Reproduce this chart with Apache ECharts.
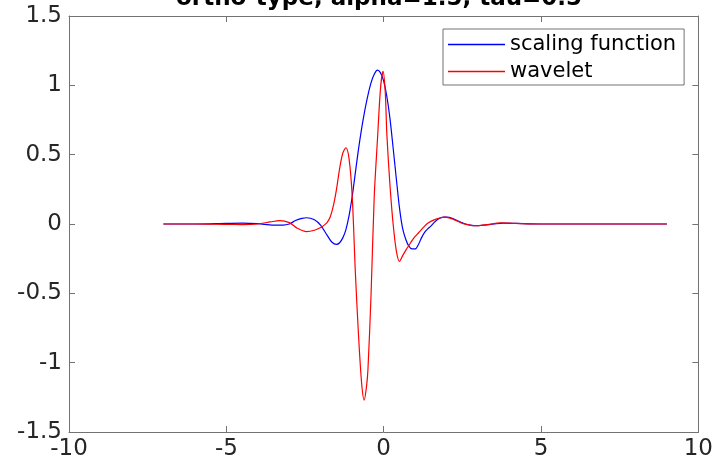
<!DOCTYPE html>
<html>
<head>
<meta charset="utf-8">
<script src="https://cdn.jsdelivr.net/npm/echarts@6/dist/echarts.min.js"></script>
<style>
  html, body { margin: 0; padding: 0; background: #fff; }
  #chart { width: 716px; height: 467px; }
</style>
</head>
<body>
<div id="chart"></div>
<script>
// title and legend texts
const titleText = 'ortho-type, alpha=1.5, tau=0.5'
const seriesNames = ['scaling function', 'wavelet']

// scaling function (blue)
const scalingX = [-7, -6, -5, -4.5, -4, -3.5, -3.2, -3, -2.8, -2.6, -2.45, -2.2, -2, -1.8, -1.65, -1.5, -1.4, -1.3, -1.2, -1.1, -1, -0.9, -0.8, -0.7, -0.6, -0.5, -0.4, -0.3, -0.2, -0.1, 0, 0.1, 0.2, 0.3, 0.4, 0.5, 0.6, 0.7, 0.8, 0.9, 1, 1.1, 1.2, 1.3, 1.4, 1.5, 1.6, 1.7, 1.8, 1.9, 2, 2.2, 2.4, 2.6, 2.8, 3, 3.2, 3.5, 3.8, 4.2, 5, 6, 7, 8, 9]
const scalingY = [0, 0, 0.004, 0.006, 0.002, -0.008, -0.008, 0, 0.025, 0.04, 0.045, 0.03, -0.01, -0.08, -0.13, -0.147, -0.135, -0.10, -0.04, 0.06, 0.20, 0.37, 0.54, 0.69, 0.82, 0.93, 1.02, 1.08, 1.11, 1.09, 1.03, 0.92, 0.76, 0.55, 0.33, 0.12, -0.03, -0.11, -0.16, -0.18, -0.18, -0.15, -0.10, -0.06, -0.035, -0.015, 0.01, 0.03, 0.043, 0.05, 0.05, 0.04, 0.018, 0, -0.01, -0.012, -0.008, 0, 0.006, 0.004, 0, 0, 0, 0, 0]

// wavelet (red)
const waveletX = [-7, -6, -5, -4.5, -4, -3.6, -3.3, -3, -2.75, -2.45, -2.2, -2, -1.9, -1.8, -1.7, -1.6, -1.5, -1.4, -1.3, -1.2, -1.1, -1, -0.9, -0.8, -0.7, -0.62, -0.55, -0.5, -0.4, -0.3, -0.2, -0.1, -0.02, 0.05, 0.1, 0.2, 0.3, 0.4, 0.5, 0.6, 0.7, 0.8, 0.9, 1, 1.1, 1.2, 1.3, 1.4, 1.6, 1.8, 1.95, 2.2, 2.5, 2.9, 3.3, 3.7, 4.2, 5, 6, 7, 8, 9]
const waveletY = [0, 0, -0.003, -0.004, 0, 0.015, 0.024, 0.01, -0.03, -0.055, -0.045, -0.025, -0.01, 0.01, 0.05, 0.13, 0.25, 0.40, 0.51, 0.55, 0.47, 0.20, -0.35, -0.80, -1.15, -1.27, -1.18, -1.05, -0.50, 0.20, 0.60, 0.98, 1.10, 0.95, 0.65, 0.28, 0, -0.19, -0.27, -0.23, -0.19, -0.155, -0.12, -0.09, -0.065, -0.04, -0.015, 0.005, 0.03, 0.045, 0.05, 0.035, 0.005, -0.012, -0.004, 0.008, 0.004, 0, 0, 0, 0, 0]

const font = 'DejaVu Sans'
const boxColor = '#737373'
const labelColor = '#262626'

const pairs = (xs, ys) => xs.map((x, i) => [x, ys[i]])

const chart = echarts.init(document.getElementById('chart'))

// box axes like matlab: ticks inside, lines on all four sides
const boxLine = { show: true, onZero: false, lineStyle: { color: boxColor, width: 1 } }
const boxTick = { show: true, inside: true, length: 6, lineStyle: { color: boxColor } }

const option = {
  animation: false,
  backgroundColor: '#fff',
  title: {
    text: titleText,
    left: 176,
    top: -12,
    padding: 0,
    textStyle: { fontFamily: font, fontWeight: 'bold', fontSize: 23, lineHeight: 23, color: '#000' }
  },
  legend: {
    orient: 'vertical',
    left: 443,
    top: 29,
    padding: [5, 8, 3, 5],
    icon: 'rect',
    itemWidth: 57,
    itemHeight: 1.5,
    itemGap: 6,
    borderColor: boxColor,
    borderWidth: 1,
    backgroundColor: '#fff',
    textStyle: { fontFamily: font, fontSize: 21, lineHeight: 21, color: '#000' },
    data: seriesNames
  },
  grid: { left: 69, right: 14, top: 16, bottom: 35 },
  xAxis: [
    {
      type: 'value', min: -10, max: 10, interval: 5, position: 'bottom',
      axisLine: boxLine, axisTick: boxTick,
      axisLabel: { margin: 6, fontFamily: font, fontSize: 23, lineHeight: 23, color: labelColor },
      splitLine: { show: false }
    },
    {
      type: 'value', min: -10, max: 10, interval: 5, position: 'top',
      axisLine: boxLine, axisTick: boxTick,
      axisLabel: { show: false },
      splitLine: { show: false }
    }
  ],
  yAxis: [
    {
      type: 'value', min: -1.5, max: 1.5, interval: 0.5, position: 'left',
      axisLine: boxLine, axisTick: boxTick,
      axisLabel: { margin: 7, fontFamily: font, fontSize: 23, color: labelColor },
      splitLine: { show: false }
    },
    {
      type: 'value', min: -1.5, max: 1.5, interval: 0.5, position: 'right',
      axisLine: boxLine, axisTick: boxTick,
      axisLabel: { show: false },
      splitLine: { show: false }
    }
  ],
  series: [
    {
      name: seriesNames[0],
      type: 'line',
      data: pairs(scalingX, scalingY),
      symbol: 'none',
      smooth: 0.3,
      lineStyle: { color: '#0000ff', width: 1.2 },
      itemStyle: { color: '#0000ff' }
    },
    {
      name: seriesNames[1],
      type: 'line',
      data: pairs(waveletX, waveletY),
      symbol: 'none',
      smooth: 0.3,
      lineStyle: { color: '#ff0000', width: 1.2 },
      itemStyle: { color: '#ff0000' }
    }
  ]
}

chart.setOption(option)
</script>
</body>
</html>
